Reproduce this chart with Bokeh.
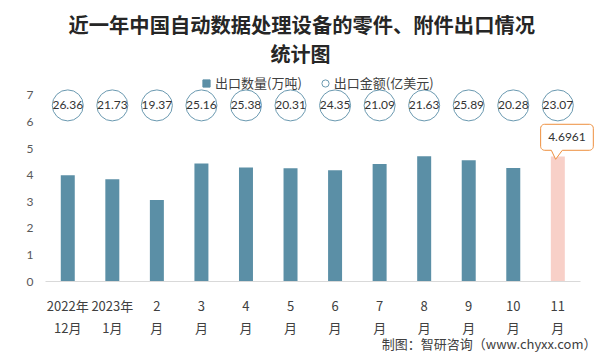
import numpy as np
from bokeh.plotting import figure
from bokeh.models import (ColumnDataSource, FixedTicker, Title, Legend, LegendItem, Range1d)
from bokeh.core.properties import value
from bokeh.embed import file_html
from bokeh.resources import INLINE

# ---------------- data ----------------
categories = ["2022年\n12月", "2023年\n1月", "2\n月", "3\n月", "4\n月", "5\n月",
              "6\n月", "7\n月", "8\n月", "9\n月", "10\n月", "11\n月"]
export_qty = [3.99, 3.84, 3.06, 4.44, 4.29, 4.26, 4.18, 4.42, 4.71, 4.56, 4.27, 4.6961]
export_value = [26.36, 21.73, 19.37, 25.16, 25.38, 20.31, 24.35, 21.09, 21.63, 25.89, 20.28, 23.07]
y_ticks = [0, 1, 2, 3, 4, 5, 6, 7]
highlight_label = "4.6961"

title_line1 = "近一年中国自动数据处理设备的零件、附件出口情况"
title_line2 = "统计图"
legend_qty = "出口数量(万吨)"
legend_val = "出口金额(亿美元)"
source_note = "制图：智研咨询（www.chyxx.com）"

# ---------------- layout constants ----------------
W, H = 600, 353
FRAME_LEFT = 45
FRAME_TOP = 70
FRAME_BOTTOM = 281
PX_PER_CAT = 44.55
PX_PER_UNIT = 26.6
x_start = -0.5
x_end = x_start + (W - FRAME_LEFT) / PX_PER_CAT
y_end = (FRAME_BOTTOM - FRAME_TOP) / PX_PER_UNIT
circle_row = 6.62

BAR_COLOR = "#5B8FA6"
HIGHLIGHT = "#F8D0C8"
CIRCLE_LINE = "#6A99B0"
ORANGE = "#EE8F3E"
CJK = "Noto Sans CJK SC"
NUM = "Lato"

n = len(categories)
xs = list(range(n))
colors = [BAR_COLOR] * (n - 1) + [HIGHLIGHT]

src = ColumnDataSource(dict(x=xs, qty=export_qty, color=colors,
                            val_txt=[f"{v:.2f}" for v in export_value],
                            row=[circle_row] * n))

p = figure(width=W, height=H, output_backend="svg", toolbar_location=None,
           x_range=Range1d(x_start, x_end), y_range=Range1d(0, y_end),
           min_border_left=FRAME_LEFT, min_border_right=0,
           min_border_top=FRAME_TOP, min_border_bottom=H - FRAME_BOTTOM,
           title=None)
p.outline_line_color = None
p.grid.visible = False
p.background_fill_color = "white"
p.border_fill_color = "white"

# bars
p.vbar(x="x", top="qty", width=0.314, color="color", source=src, line_color=None)

# value circles with amounts
p.scatter(x="x", y="row", size=31, marker="circle", source=src,
          fill_color="white", line_color=CIRCLE_LINE, line_width=1)
p.text(x="x", y="row", text="val_txt", source=src, text_align="center",
       text_baseline="middle", text_font_size="12px", text_font=value(NUM),
       text_color="#333333")

# callout on last bar (pixel offsets converted to data units)
ax = xs[-1]
ay = export_qty[-1]
def to_data(dx, dy):
    return ax + dx / PX_PER_CAT, ay + dy / PX_PER_UNIT

L, R, T, B, r = -17.2, 35.5, 32.3, 6.3, 4.0
pts = []
def arc(cx, cy, a0, a1):
    for a in np.linspace(a0, a1, 6):
        pts.append((cx + r * np.cos(a), cy + r * np.sin(a)))
arc(L + r, B + r, np.pi, 1.5 * np.pi)
pts.append((-6.5, B))
pts.append((-2.2, -2.7))
pts.append((4.5, B))
arc(R - r, B + r, 1.5 * np.pi, 2 * np.pi)
arc(R - r, T - r, 0, 0.5 * np.pi)
arc(L + r, T - r, 0.5 * np.pi, np.pi)
cx_, cy_ = zip(*[to_data(dx, dy) for dx, dy in pts])
p.patch(list(cx_), list(cy_), fill_color="white", line_color=ORANGE, line_width=1)
tx, ty = to_data((L + R) / 2, (T + B) / 2)
p.text(x=[tx], y=[ty], text=[highlight_label], text_align="center",
       text_baseline="middle", text_font_size="12px", text_font=value(NUM),
       text_color="#333333")

# legend: proxy markers placed outside the visible range (only shown in legend)
off = [x_start - 5]
leg_sq = p.scatter(x=off, y=[0], marker="square", fill_color=BAR_COLOR, line_color=BAR_COLOR)
leg_ci = p.scatter(x=off, y=[0], marker="circle", fill_color="white",
                   line_color=CIRCLE_LINE, line_width=1)
legend = Legend(items=[LegendItem(label=legend_qty, renderers=[leg_sq]),
                       LegendItem(label=legend_val, renderers=[leg_ci])],
                orientation="horizontal", location=(152, 189),
                glyph_width=18, glyph_height=18, label_standoff=0, spacing=14,
                padding=0, margin=0, border_line_color=None,
                background_fill_alpha=0, label_text_font=CJK,
                label_text_font_size="13px", label_text_color="#404040",
                label_height=18)
p.add_layout(legend, "center")

# axes
xa = p.xaxis[0]
xa.ticker = FixedTicker(ticks=xs)
xa.major_label_overrides = {i: c for i, c in enumerate(categories)}
xa.major_label_text_font = CJK
xa.major_label_text_font_size = "13px"
xa.major_label_text_color = "#404040"
xa.major_label_text_line_height = 1.17
xa.major_label_standoff = 14
xa.major_tick_line_color = None
xa.major_tick_out = 0
xa.major_tick_in = 0
xa.minor_tick_line_color = None
xa.axis_line_color = "#D9D9D9"
xa.bounds = (-0.5, n - 0.5)

ya = p.yaxis[0]
ya.ticker = FixedTicker(ticks=y_ticks)
ya.major_label_text_font = NUM
ya.major_label_text_font_size = "12px"
ya.major_label_text_color = "#595959"
ya.major_tick_line_color = None
ya.major_tick_out = 0
ya.major_tick_in = 0
ya.minor_tick_line_color = None
ya.axis_line_color = None
ya.major_label_standoff = 12

# titles (stacked outward from the frame)
common = dict(text_font=CJK, text_font_style="bold", text_color="#262626", align="left")
t2 = Title(text=title_line2, offset=225, standoff=6, text_font_size="20px", **common)
p.add_layout(t2, "above")
t1 = Title(text=title_line1, offset=23, standoff=-10, text_font_size="20.3px", **common)
p.add_layout(t1, "above")

note = Title(text=source_note, align="right", offset=4, text_font=CJK,
             text_font_size="13px", text_font_style="normal", text_color="#404040",
             standoff=-11.5, vertical_align="top")
p.add_layout(note, "below")

open("out.html", "w").write(file_html(p, INLINE))
